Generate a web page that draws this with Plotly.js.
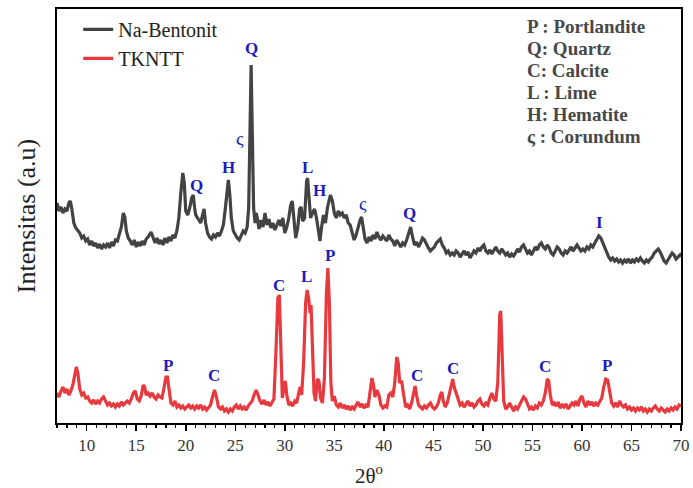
<!DOCTYPE html>
<html>
<head>
<meta charset="utf-8">
<script src="https://cdn.plot.ly/plotly-3.0.1.min.js"></script>
<style>html,body{margin:0;padding:0;background:#fff;}#chart{width:693px;height:488px;}</style>
</head>
<body>
<div id="chart"></div>
<script>
// ---- Data (2θ in degrees, intensity in arbitrary units) ----
const seriesNames = ["Na-Bentonit", "TKNTT"];

const naBentonit = [
[7.0,220],[7.2,212],[7.4,216],[7.6,210],[7.8,214],[8.0,212],[8.2,220],[8.35,222],[8.5,214],[8.7,200],[8.9,195],[9.1,192],[9.3,190],[9.5,185],[9.7,187],[9.9,182],[10.1,184],[10.3,178],[10.5,182],[10.7,177],[10.9,180],[11.1,175],[11.3,179],[11.5,174],[11.7,178],[11.9,176],[12.1,180],[12.3,175],[12.5,181],[12.7,177],[12.9,183],[13.1,182],[13.3,188],[13.5,196],[13.7,210],[13.85,206],[14.0,192],[14.2,185],[14.4,182],[14.6,178],[14.8,183],[15.0,176],[15.2,181],[15.4,177],[15.6,182],[15.8,178],[16.0,184],[16.2,186],[16.5,191],[16.7,186],[16.9,180],[17.1,185],[17.3,179],[17.5,183],[17.7,178],[17.9,185],[18.1,180],[18.3,186],[18.5,182],[18.7,188],[18.9,185],[19.1,192],[19.3,205],[19.5,230],[19.7,250],[19.85,240],[20.0,212],[20.2,208],[20.4,215],[20.6,225],[20.75,228],[20.9,215],[21.0,208],[21.2,205],[21.5,200],[21.7,208],[21.85,214],[22.0,200],[22.2,190],[22.4,186],[22.6,184],[22.8,188],[23.0,186],[23.2,190],[23.4,187],[23.6,192],[23.8,198],[24.0,215],[24.2,240],[24.3,243],[24.45,228],[24.6,205],[24.8,192],[25.0,188],[25.2,185],[25.4,183],[25.6,188],[25.8,192],[26.0,190],[26.2,196],[26.35,215],[26.5,300],[26.6,358],[26.7,300],[26.85,215],[27.0,200],[27.1,210],[27.2,206],[27.4,194],[27.6,203],[27.8,196],[28.0,210],[28.2,198],[28.4,204],[28.6,195],[28.8,200],[29.0,193],[29.2,198],[29.4,203],[29.6,197],[29.8,205],[30.0,190],[30.2,196],[30.4,205],[30.6,218],[30.75,222],[30.9,205],[31.1,185],[31.3,195],[31.5,214],[31.65,216],[31.8,202],[32.0,205],[32.2,242],[32.3,245],[32.45,225],[32.6,205],[32.8,210],[33.0,214],[33.2,205],[33.4,190],[33.55,182],[33.7,195],[33.9,208],[34.1,200],[34.3,215],[34.6,228],[34.8,222],[35.0,210],[35.2,205],[35.4,212],[35.6,208],[35.8,210],[36.0,205],[36.2,208],[36.4,200],[36.6,198],[36.8,190],[37.0,183],[37.2,188],[37.4,196],[37.6,203],[37.75,206],[37.9,195],[38.1,184],[38.3,180],[38.5,186],[38.7,182],[38.9,188],[39.1,184],[39.3,191],[39.5,186],[39.7,183],[39.9,187],[40.1,185],[40.3,182],[40.5,188],[40.7,184],[40.9,182],[41.1,177],[41.3,183],[41.5,179],[41.7,176],[41.9,180],[42.1,178],[42.3,183],[42.5,190],[42.7,196],[42.9,186],[43.1,178],[43.3,181],[43.5,176],[43.7,180],[43.9,185],[44.1,183],[44.3,178],[44.5,175],[44.7,172],[44.9,174],[45.1,176],[45.3,180],[45.5,182],[45.7,184],[45.9,178],[46.1,175],[46.3,170],[46.5,172],[46.7,168],[46.9,170],[47.1,168],[47.3,172],[47.5,170],[47.7,166],[47.9,169],[48.1,172],[48.3,168],[48.5,171],[48.7,165],[48.9,168],[49.1,172],[49.3,170],[49.5,175],[49.7,172],[49.9,176],[50.1,178],[50.3,172],[50.5,170],[50.7,173],[50.9,169],[51.1,172],[51.3,176],[51.5,172],[51.7,170],[51.9,174],[52.1,171],[52.3,168],[52.5,170],[52.7,166],[52.9,169],[53.1,167],[53.3,170],[53.5,174],[53.7,171],[53.9,176],[54.1,178],[54.3,174],[54.5,170],[54.7,172],[54.9,168],[55.1,172],[55.3,176],[55.5,173],[55.7,178],[55.9,180],[56.1,176],[56.3,174],[56.5,178],[56.7,175],[56.9,170],[57.1,168],[57.3,172],[57.5,176],[57.7,174],[57.9,170],[58.1,168],[58.3,172],[58.5,170],[58.7,173],[58.9,176],[59.1,172],[59.3,175],[59.5,178],[59.7,175],[59.9,172],[60.1,174],[60.3,172],[60.5,176],[60.7,174],[60.9,178],[61.1,176],[61.3,180],[61.5,184],[61.7,187],[61.9,185],[62.1,180],[62.3,176],[62.5,170],[62.7,166],[62.9,163],[63.1,165],[63.3,162],[63.5,164],[63.7,161],[63.9,163],[64.1,160],[64.3,163],[64.5,161],[64.7,164],[64.9,160],[65.1,163],[65.3,161],[65.5,164],[65.7,162],[65.9,165],[66.1,162],[66.3,160],[66.5,163],[66.7,161],[66.9,164],[67.1,166],[67.3,170],[67.5,172],[67.7,174],[67.9,171],[68.1,166],[68.3,162],[68.5,160],[68.7,163],[68.9,166],[69.1,170],[69.3,168],[69.5,164],[69.7,166],[69.9,168],[70.0,166]
];

const tkntt = [
[7.0,30],[7.2,26],[7.4,32],[7.6,36],[7.8,30],[8.0,34],[8.2,28],[8.4,32],[8.6,38],[8.8,50],[8.95,56],[9.1,50],[9.3,34],[9.5,28],[9.7,30],[9.9,25],[10.1,26],[10.3,22],[10.5,20],[10.7,23],[10.9,19],[11.1,22],[11.3,20],[11.5,24],[11.7,26],[11.9,22],[12.1,18],[12.3,20],[12.5,17],[12.7,19],[12.9,16],[13.1,19],[13.3,17],[13.5,21],[13.7,18],[13.9,20],[14.1,22],[14.3,20],[14.5,24],[14.7,30],[14.9,32],[15.1,24],[15.3,22],[15.5,27],[15.7,38],[15.85,36],[16.0,28],[16.2,30],[16.4,27],[16.6,30],[16.8,26],[17.0,24],[17.2,28],[17.4,26],[17.6,25],[17.8,35],[18.0,46],[18.15,46],[18.3,35],[18.5,20],[18.7,18],[18.9,22],[19.1,16],[19.3,18],[19.5,15],[19.7,17],[19.9,14],[20.1,16],[20.3,18],[20.5,15],[20.7,17],[20.9,14],[21.1,17],[21.3,15],[21.5,18],[21.7,14],[21.9,16],[22.1,13],[22.3,16],[22.5,18],[22.7,26],[22.9,33],[23.1,26],[23.3,16],[23.5,14],[23.7,16],[23.9,12],[24.1,14],[24.3,11],[24.5,14],[24.7,12],[24.9,16],[25.1,18],[25.3,14],[25.5,17],[25.7,14],[25.9,16],[26.1,13],[26.3,17],[26.5,20],[26.7,22],[26.9,28],[27.1,33],[27.3,28],[27.5,22],[27.7,19],[27.9,23],[28.1,18],[28.3,21],[28.5,17],[28.7,20],[28.9,24],[29.1,70],[29.3,125],[29.45,128],[29.6,80],[29.75,25],[29.9,34],[30.05,42],[30.2,28],[30.4,18],[30.6,20],[30.8,17],[31.0,22],[31.2,20],[31.4,30],[31.55,36],[31.7,28],[31.9,60],[32.1,120],[32.25,133],[32.4,125],[32.55,110],[32.65,118],[32.8,70],[32.95,30],[33.1,22],[33.3,44],[33.45,42],[33.6,25],[33.8,20],[34.0,45],[34.2,130],[34.35,155],[34.5,120],[34.65,40],[34.8,22],[35.0,27],[35.2,18],[35.4,16],[35.6,20],[35.8,15],[36.0,18],[36.2,14],[36.4,17],[36.6,13],[36.8,16],[37.0,14],[37.2,18],[37.4,21],[37.6,16],[37.8,19],[38.0,15],[38.2,18],[38.4,16],[38.6,30],[38.8,45],[38.95,38],[39.1,26],[39.3,33],[39.5,28],[39.7,18],[39.9,15],[40.1,17],[40.3,16],[40.5,28],[40.7,30],[40.9,26],[41.1,40],[41.3,66],[41.45,60],[41.6,40],[41.8,42],[42.0,28],[42.2,16],[42.4,18],[42.6,14],[42.8,20],[43.0,30],[43.15,37],[43.3,28],[43.5,18],[43.7,16],[43.9,14],[44.1,17],[44.3,15],[44.5,18],[44.7,20],[44.9,16],[45.1,14],[45.3,16],[45.5,20],[45.7,28],[45.85,31],[46.0,22],[46.2,16],[46.4,20],[46.6,28],[46.8,38],[46.95,44],[47.1,36],[47.3,30],[47.5,24],[47.7,18],[47.9,20],[48.1,16],[48.3,19],[48.5,22],[48.7,17],[48.9,20],[49.1,16],[49.3,18],[49.5,22],[49.7,24],[49.9,19],[50.1,17],[50.3,20],[50.5,18],[50.7,25],[50.9,30],[51.1,24],[51.3,22],[51.5,40],[51.7,108],[51.8,112],[51.95,70],[52.1,22],[52.3,14],[52.5,16],[52.7,20],[52.9,15],[53.1,12],[53.3,16],[53.5,14],[53.7,18],[53.9,22],[54.1,26],[54.3,24],[54.5,18],[54.7,14],[54.9,16],[55.1,13],[55.3,17],[55.5,15],[55.7,20],[55.9,18],[56.1,22],[56.3,30],[56.5,44],[56.65,42],[56.8,28],[57.0,18],[57.2,20],[57.4,17],[57.6,21],[57.8,15],[58.0,18],[58.2,16],[58.4,19],[58.6,14],[58.8,17],[59.0,20],[59.2,18],[59.4,22],[59.6,17],[59.8,24],[60.0,27],[60.2,20],[60.4,16],[60.6,22],[60.8,18],[61.0,21],[61.2,17],[61.4,20],[61.6,18],[61.8,22],[62.0,25],[62.2,36],[62.4,44],[62.6,43],[62.8,30],[63.0,20],[63.2,17],[63.4,20],[63.6,16],[63.8,22],[64.0,18],[64.2,16],[64.4,18],[64.6,14],[64.8,16],[65.0,13],[65.2,15],[65.4,12],[65.6,15],[65.8,13],[66.0,16],[66.2,12],[66.4,14],[66.6,11],[66.8,14],[67.0,12],[67.2,15],[67.4,17],[67.6,14],[67.8,12],[68.0,15],[68.2,13],[68.4,11],[68.6,14],[68.8,12],[69.0,15],[69.2,13],[69.4,16],[69.6,14],[69.8,18],[70.0,17]
];

// Phase labels on peaks: [label, 2θ, intensity]
const bentonitePeakLabels = [["Q",21.1,238],["H",24.3,256],["ς",25.45,285],["Q",26.65,375],["L",32.3,256],["H",33.5,233],["ς",37.9,220],["Q",42.6,210],["I",61.8,201]];
const tknttPeakLabels = [["P",18.2,58],["C",22.9,48],["C",29.4,138],["L",32.2,147],["P",34.55,168],["C",43.3,48],["C",47.0,55],["C",56.3,57],["P",62.5,58]];
const phaseKey = ["P : Portlandite","Q: Quartz","C: Calcite","L : Lime","H: Hematite","ς : Corundum"];

const xTickVals = [10,15,20,25,30,35,40,45,50,55,60,65,70];

// ---- Build ----
const serif = "Liberation Serif, Times New Roman, serif";
const traces = [
  {x: naBentonit.map(p=>p[0]), y: naBentonit.map(p=>p[1]), name: seriesNames[0], mode: "lines",
   line: {color: "#434343", width: 3.2}},
  {x: tkntt.map(p=>p[0]), y: tkntt.map(p=>p[1]), name: seriesNames[1], mode: "lines",
   line: {color: "#e8393e", width: 3.2}}
];

const annotations = [];
bentonitePeakLabels.concat(tknttPeakLabels).forEach(([t,x,y]) => {
  const sigma = t === "ς";
  annotations.push({x: x, y: y, xref: "x", yref: "y", showarrow: false,
    text: sigma ? t : "<b>" + t + "</b>",
    font: {family: serif, size: sigma ? 19 : 17, color: "#1c1cb8"}});
});
phaseKey.forEach((t, i) => {
  annotations.push({x: 0.75, y: 0.957 - i * 0.0528, xref: "paper", yref: "paper", xanchor: "left", yanchor: "middle",
    showarrow: false, text: "<b>" + t + "</b>", font: {family: serif, size: 19, color: "#484848"}});
});

const layout = {
  width: 693, height: 488,
  margin: {l: 57, r: 12, t: 9, b: 65},
  paper_bgcolor: "#fff", plot_bgcolor: "#fff",
  showlegend: true,
  legend: {x: 0.034, y: 0.998, xanchor: "left", yanchor: "top", bgcolor: "rgba(0,0,0,0)",
    font: {family: serif, size: 20, color: "#222"}, tracegroupgap: 0},
  xaxis: {range: [7, 70], tickvals: xTickVals, ticktext: xTickVals.map(String),
    ticks: "outside", ticklen: 6, tickwidth: 1.5, tickcolor: "#000",
    minor: {dtick: 1, tick0: 0, ticks: "outside", ticklen: 3, tickwidth: 1.2, tickcolor: "#000"},
    showline: true, linecolor: "#000", linewidth: 2, mirror: true, showgrid: false, zeroline: false,
    tickfont: {family: serif, size: 17, color: "#333"},
    title: {text: "2θ<sup>o</sup>", font: {family: serif, size: 21, color: "#222"}, standoff: 14}},
  yaxis: {range: [0, 414], showticklabels: false, ticks: "", showline: true, linecolor: "#000", linewidth: 2,
    mirror: true, showgrid: false, zeroline: false,
    title: {text: "Intensitas (a.u)", font: {family: serif, size: 26, color: "#222"}, standoff: 12}},
  annotations: annotations
};

Plotly.newPlot("chart", traces, layout, {displayModeBar: false, staticPlot: true});
</script>
</body>
</html>
